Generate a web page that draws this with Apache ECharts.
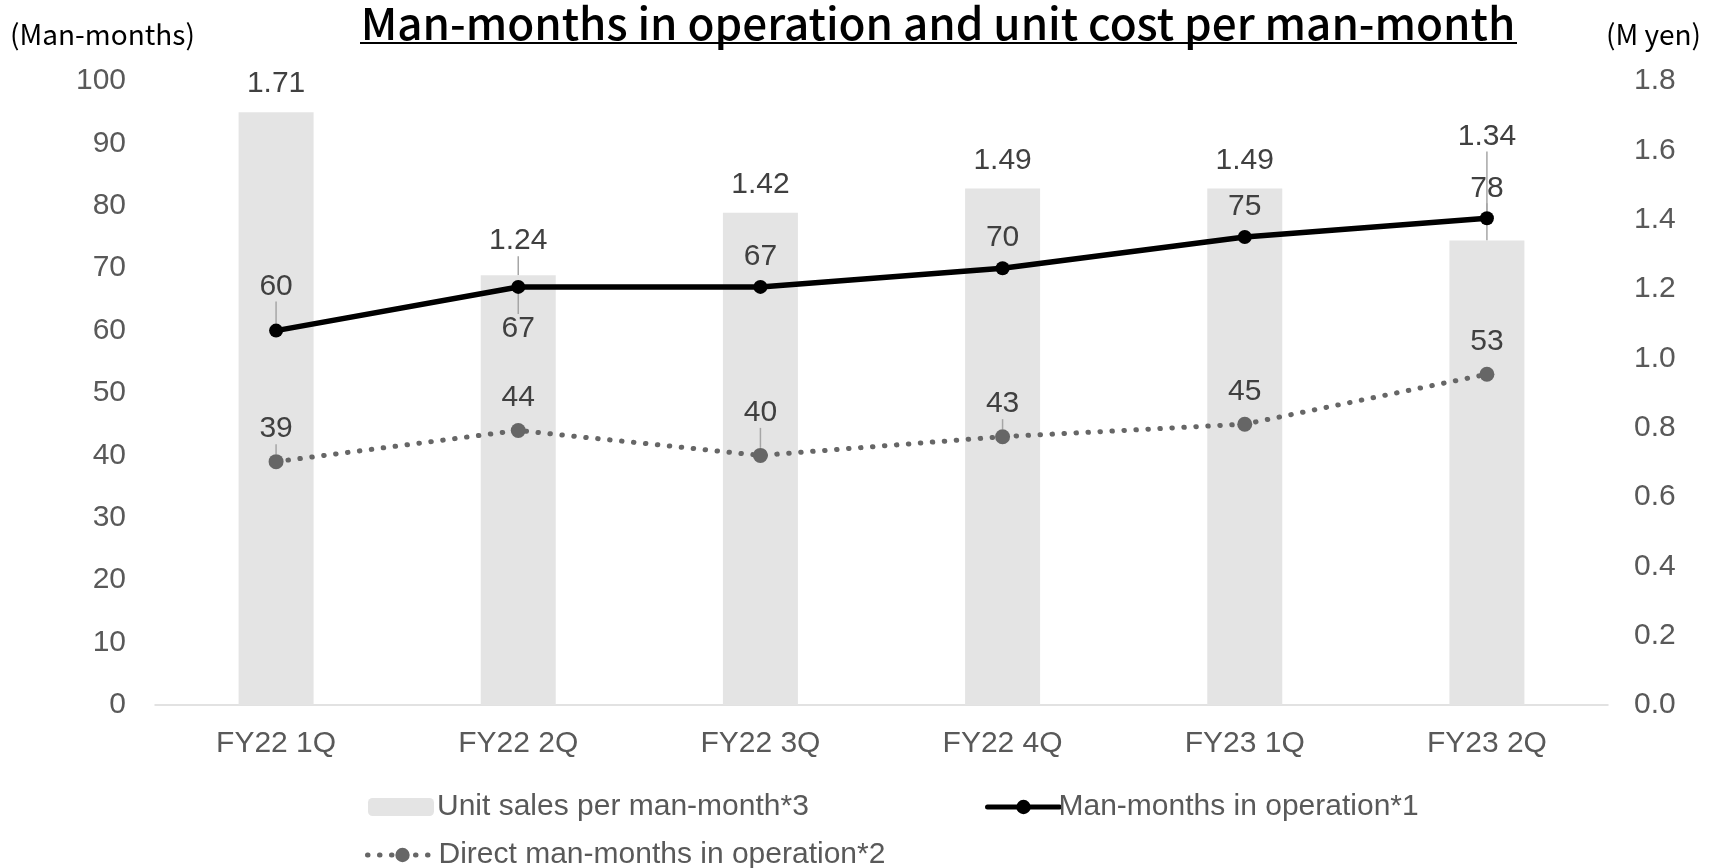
<!DOCTYPE html>
<html>
<head>
<meta charset="utf-8">
<script src="https://cdn.jsdelivr.net/npm/echarts@6/dist/echarts.min.js"></script>
<style>
  html, body { margin: 0; padding: 0; background: #fff; }
  #chart { width: 1720px; height: 868px; }
</style>
</head>
<body>
<div id="chart"></div>
<script>
var chart = echarts.init(document.getElementById('chart'), null, {renderer: 'canvas'});

// data
var quarters = ['FY22 1Q', 'FY22 2Q', 'FY22 3Q', 'FY22 4Q', 'FY23 1Q', 'FY23 2Q'];
var unitSales = [1.71, 1.24, 1.42, 1.49, 1.49, 1.34];      // M yen, right axis
var manMonths = [60, 67, 67, 70, 75, 78];                  // left axis
var directManMonths = [39, 44, 40, 43, 45, 53];            // left axis

var txt = '#404040';
var axisTxt = '#595959';
var latin = 'Arial, "Liberation Sans", sans-serif';
var jp = '"Noto Sans CJK JP", sans-serif';
var guide = { show: true, lineStyle: { color: '#a6a6a6', width: 1.5 } };

// only some labels carry a leader line in the original
function withGuides(values, idx, extra) {
  return values.map(function (v, i) {
    var item = { value: v };
    if (idx.indexOf(i) >= 0) item.labelLine = guide;
    if (extra && extra[i]) item.label = extra[i];
    return item;
  });
}

var option = {
  animation: false,
  backgroundColor: '#fff',
  title: {
    text: 'Man-months in operation and unit cost per man-month',
    left: 938,
    textAlign: 'center',
    top: 1,
    padding: 0,
    textStyle: { fontFamily: jp, fontSize: 44, fontWeight: 500, color: '#000' }
  },
  graphic: [
    // title underline
    { type: 'line', shape: { x1: 360, y1: 43, x2: 1517, y2: 43 }, style: { stroke: '#000', lineWidth: 2 } },
    { type: 'text', left: 10, top: 20, style: { text: '(Man-months)', font: '400 28px ' + jp, fill: '#000' } },
    { type: 'text', left: 1606, top: 20, style: { text: '(M yen)', font: '400 28px ' + jp, fill: '#000' } }
  ],
  legend: [
    {
      data: ['Unit sales per man-month*3'],
      left: 363, top: 787,
      itemWidth: 66, itemHeight: 18,
      textStyle: { fontFamily: latin, fontSize: 30, color: axisTxt, padding: [0, 0, 0, -2] }
    },
    {
      data: ['Man-months in operation*1'],
      left: 980, top: 787,
      itemWidth: 72, itemHeight: 18,
      lineStyle: { width: 5, cap: 'round' },
      textStyle: { fontFamily: latin, fontSize: 30, color: axisTxt, padding: [0, 0, 0, -6] }
    },
    {
      data: ['Direct man-months in operation*2'],
      left: 360, top: 835,
      itemWidth: 70, itemHeight: 18,
      lineStyle: { width: 5, type: [0.5, 11.5], cap: 'round' },
      textStyle: { fontFamily: latin, fontSize: 30, color: axisTxt, padding: [0, 0, 0, -4] }
    }
  ],
  grid: { left: 155, right: 112, top: 81, bottom: 163, containLabel: false },
  xAxis: {
    type: 'category',
    data: quarters,
    axisLine: { lineStyle: { color: '#d9d9d9', width: 1.5 } },
    axisTick: { show: false },
    axisLabel: { fontFamily: latin, fontSize: 30, color: axisTxt, margin: 24 }
  },
  yAxis: [
    {
      type: 'value', min: 0, max: 100, interval: 10,
      splitLine: { show: false },
      axisLine: { show: false }, axisTick: { show: false },
      axisLabel: { fontFamily: latin, fontSize: 30, color: axisTxt, margin: 29 }
    },
    {
      type: 'value', min: 0, max: 1.8, interval: 0.2,
      splitLine: { show: false },
      axisLine: { show: false }, axisTick: { show: false },
      axisLabel: {
        fontFamily: latin, fontSize: 30, color: axisTxt, margin: 26,
        formatter: function (v) { return v.toFixed(1); }
      }
    }
  ],
  series: [
    {
      name: 'Unit sales per man-month*3',
      type: 'bar',
      yAxisIndex: 1,
      data: withGuides(unitSales, [1, 5]),
      barWidth: 75,
      itemStyle: { color: '#e4e4e4' },
      z: 1,
      label: {
        show: true, position: 'top', distance: 13,
        fontFamily: latin, fontSize: 30, color: txt,
        formatter: function (p) { return p.value.toFixed(2); }
      },
      labelLine: { show: false },
      labelLayout: function (p) {
        if (p.dataIndex === 5) return { dy: -76 };
        if (p.dataIndex === 1) return { dy: -6 };
        return {};
      }
    },
    {
      name: 'Man-months in operation*1',
      type: 'line',
      data: withGuides(manMonths, [0, 1, 5], { 1: { position: 'bottom', distance: 20 } }),
      symbol: 'circle',
      symbolSize: 14,
      itemStyle: { color: '#000' },
      lineStyle: { color: '#000', width: 5.5 },
      z: 3,
      label: {
        show: true, position: 'top', distance: 8,
        fontFamily: latin, fontSize: 30, color: txt
      },
      labelLine: { show: false },
      labelLayout: function (p) {
        if (p.dataIndex === 0) return { dy: -14 };
        return {};
      }
    },
    {
      name: 'Direct man-months in operation*2',
      type: 'line',
      data: withGuides(directManMonths, [0, 2, 3]),
      symbol: 'circle',
      symbolSize: 15,
      itemStyle: { color: '#666666' },
      lineStyle: { color: '#666666', width: 5, type: [0.5, 11.5], cap: 'round' },
      z: 2,
      label: {
        show: true, position: 'top', distance: 10,
        fontFamily: latin, fontSize: 30, color: txt
      },
      labelLine: { show: false },
      labelLayout: function (p) {
        if (p.dataIndex === 2) return { dy: -10 };
        return {};
      }
    }
  ]
};

chart.setOption(option);
</script>
</body>
</html>
